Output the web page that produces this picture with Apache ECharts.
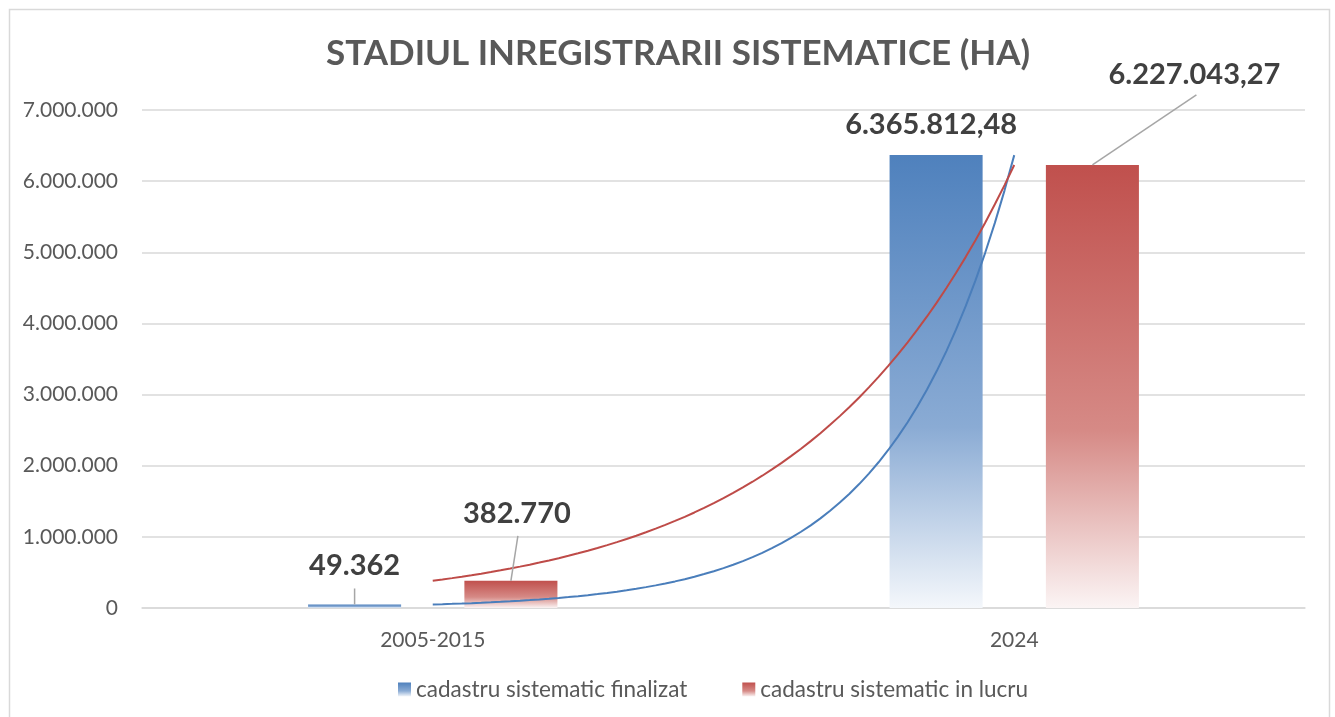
<!DOCTYPE html>
<html>
<head>
<meta charset="utf-8">
<script src="https://cdn.jsdelivr.net/npm/echarts@6/dist/echarts.min.js"></script>
<style>
  html, body { margin: 0; padding: 0; background: #fff; }
  #chart { width: 1335px; height: 717px; }
</style>
</head>
<body>
<div id="chart"></div>
<script>
  // date
  let categories = ['2005-2015', '2024'];
  let finalizat = [49362, 6365812.48];
  let inLucru = [382770, 6227043.27];
  let yTicks = [0, 7000000, 1000000];

  // format ro: 6.365.812,48
  function fmt(v) {
    let parts = String(Math.round(v * 100) / 100).split('.');
    let intPart = parts[0].replace(/\B(?=(\d{3})+(?!\d))/g, '.');
    if (parts[1]) {
      let dec = (parts[1] + '0').slice(0, 2);
      return intPart + ',' + dec;
    }
    return intPart;
  }

  // linie de tendinta exponentiala intre centrele categoriilor (ca in Excel)
  function trend(vals) {
    let out = [];
    for (let i = 0; i <= 60; i++) {
      let t = i / 60;
      out.push([t, vals[0] * Math.pow(vals[1] / vals[0], t)]);
    }
    return out;
  }

  function grad(top, mid, bottom) {
    return new echarts.graphic.LinearGradient(0, 0, 0, 1, [
      {offset: 0, color: top},
      {offset: 0.6, color: mid},
      {offset: 1, color: bottom}
    ]);
  }

  let blueFill = grad('#4f81bd', '#8aabd4', '#f4f7fb');
  let redFill = grad('#c0504d', '#d68a86', '#fbf4f4');

  // etichete mutate ca in original: [serie][categorie] = [dx, dy]
  let labelMoves = [
    [[0, -18], [-5, -10]],
    [[6, -47], [102, -70]]
  ];
  // linii de legatura eticheta-bara: [serie (-1 stanga / 1 dreapta), categorie, dx, dy]
  let leaders = [
    [-1, 0, 0, -16],
    [1, 0, 7, -45],
    [1, 1, 104, -70]
  ];

  let barW = 0.16, barGapRatio = 0.68;
  let barShift = barW * (1 + barGapRatio) / 2;

  function makeLabel() {
    return {
      show: true,
      position: 'top',
      distance: 6,
      fontFamily: 'Lato',
      fontWeight: 'bold',
      fontSize: 29,
      color: '#404040',
      formatter: function (p) { return fmt(p.value); }
    };
  }

  let leaderData = leaders.map(function (l) {
    let vals = l[0] < 0 ? finalizat : inLucru;
    return [l[1], vals[l[1]], l[0], l[2], l[3]];
  });

  let myChart = echarts.init(document.getElementById('chart'));
  myChart.setOption({
    backgroundColor: '#ffffff',
    animation: false,
    textStyle: {fontFamily: 'Lato'},
    title: {
      text: 'STADIUL INREGISTRARII SISTEMATICE (HA)',
      left: 321,
      top: 31,
      textStyle: {
        fontFamily: 'Lato',
        fontWeight: 'bold',
        fontSize: 35,
        color: '#595959'
      }
    },
    graphic: [{
      type: 'rect',
      shape: {x: 9.5, y: 9.5, width: 1320, height: 720},
      style: {fill: null, stroke: '#d9d9d9', lineWidth: 1.5},
      silent: true
    }],
    legend: {
      bottom: 11,
      left: 393,
      itemWidth: 13,
      itemHeight: 14,
      itemGap: 55,
      icon: 'rect',
      textStyle: {fontFamily: 'Lato', fontSize: 22.5, color: '#595959'},
      data: ['cadastru sistematic finalizat', 'cadastru sistematic in lucru']
    },
    grid: {left: 142, right: 30, top: 110, bottom: 109},
    xAxis: [
      {
        type: 'category',
        data: categories,
        axisTick: {show: false},
        axisLine: {lineStyle: {color: '#d9d9d9', width: 1.5}},
        axisLabel: {fontFamily: 'Lato', fontSize: 21, color: '#595959', margin: 22}
      },
      {
        type: 'value',
        min: -0.5,
        max: 1.5,
        show: false
      }
    ],
    yAxis: {
      type: 'value',
      min: yTicks[0],
      max: yTicks[1],
      interval: yTicks[2],
      axisLine: {show: false},
      axisTick: {show: false},
      splitLine: {lineStyle: {color: '#d9d9d9', width: 1.5}},
      axisLabel: {
        fontFamily: 'Lato',
        fontSize: 21,
        color: '#595959',
        margin: 24,
        formatter: function (v) { return fmt(v); }
      }
    },
    series: [
      {
        name: 'cadastru sistematic finalizat',
        type: 'bar',
        data: finalizat,
        barWidth: (barW * 100) + '%',
        barGap: (barGapRatio * 100) + '%',
        itemStyle: {color: blueFill},
        label: makeLabel(),
        labelLayout: function (p) {
          let m = labelMoves[0][p.dataIndex];
          return {dx: m[0], dy: m[1]};
        },
        z: 2
      },
      {
        name: 'cadastru sistematic in lucru',
        type: 'bar',
        data: inLucru,
        barWidth: (barW * 100) + '%',
        itemStyle: {color: redFill},
        label: makeLabel(),
        labelLayout: function (p) {
          let m = labelMoves[1][p.dataIndex];
          return {dx: m[0], dy: m[1]};
        },
        z: 2
      },
      {
        name: 'trend finalizat',
        type: 'line',
        xAxisIndex: 1,
        data: trend(finalizat),
        showSymbol: false,
        lineStyle: {color: '#4a7ebb', width: 2},
        z: 3
      },
      {
        name: 'trend in lucru',
        type: 'line',
        xAxisIndex: 1,
        data: trend(inLucru),
        showSymbol: false,
        lineStyle: {color: '#be4b48', width: 2},
        z: 3
      },
      {
        name: 'leaders',
        type: 'custom',
        data: leaderData,
        silent: true,
        z: 4,
        renderItem: function (params, api) {
          let p = api.coord([api.value(0), api.value(1)]);
          let w = api.size([1, 0])[0];
          let x = p[0] + api.value(2) * w * barShift;
          return {
            type: 'line',
            shape: {x1: x, y1: p[1], x2: x + api.value(3), y2: p[1] + api.value(4)},
            style: {stroke: '#a6a6a6', lineWidth: 1.5}
          };
        }
      }
    ]
  });
</script>
</body>
</html>
